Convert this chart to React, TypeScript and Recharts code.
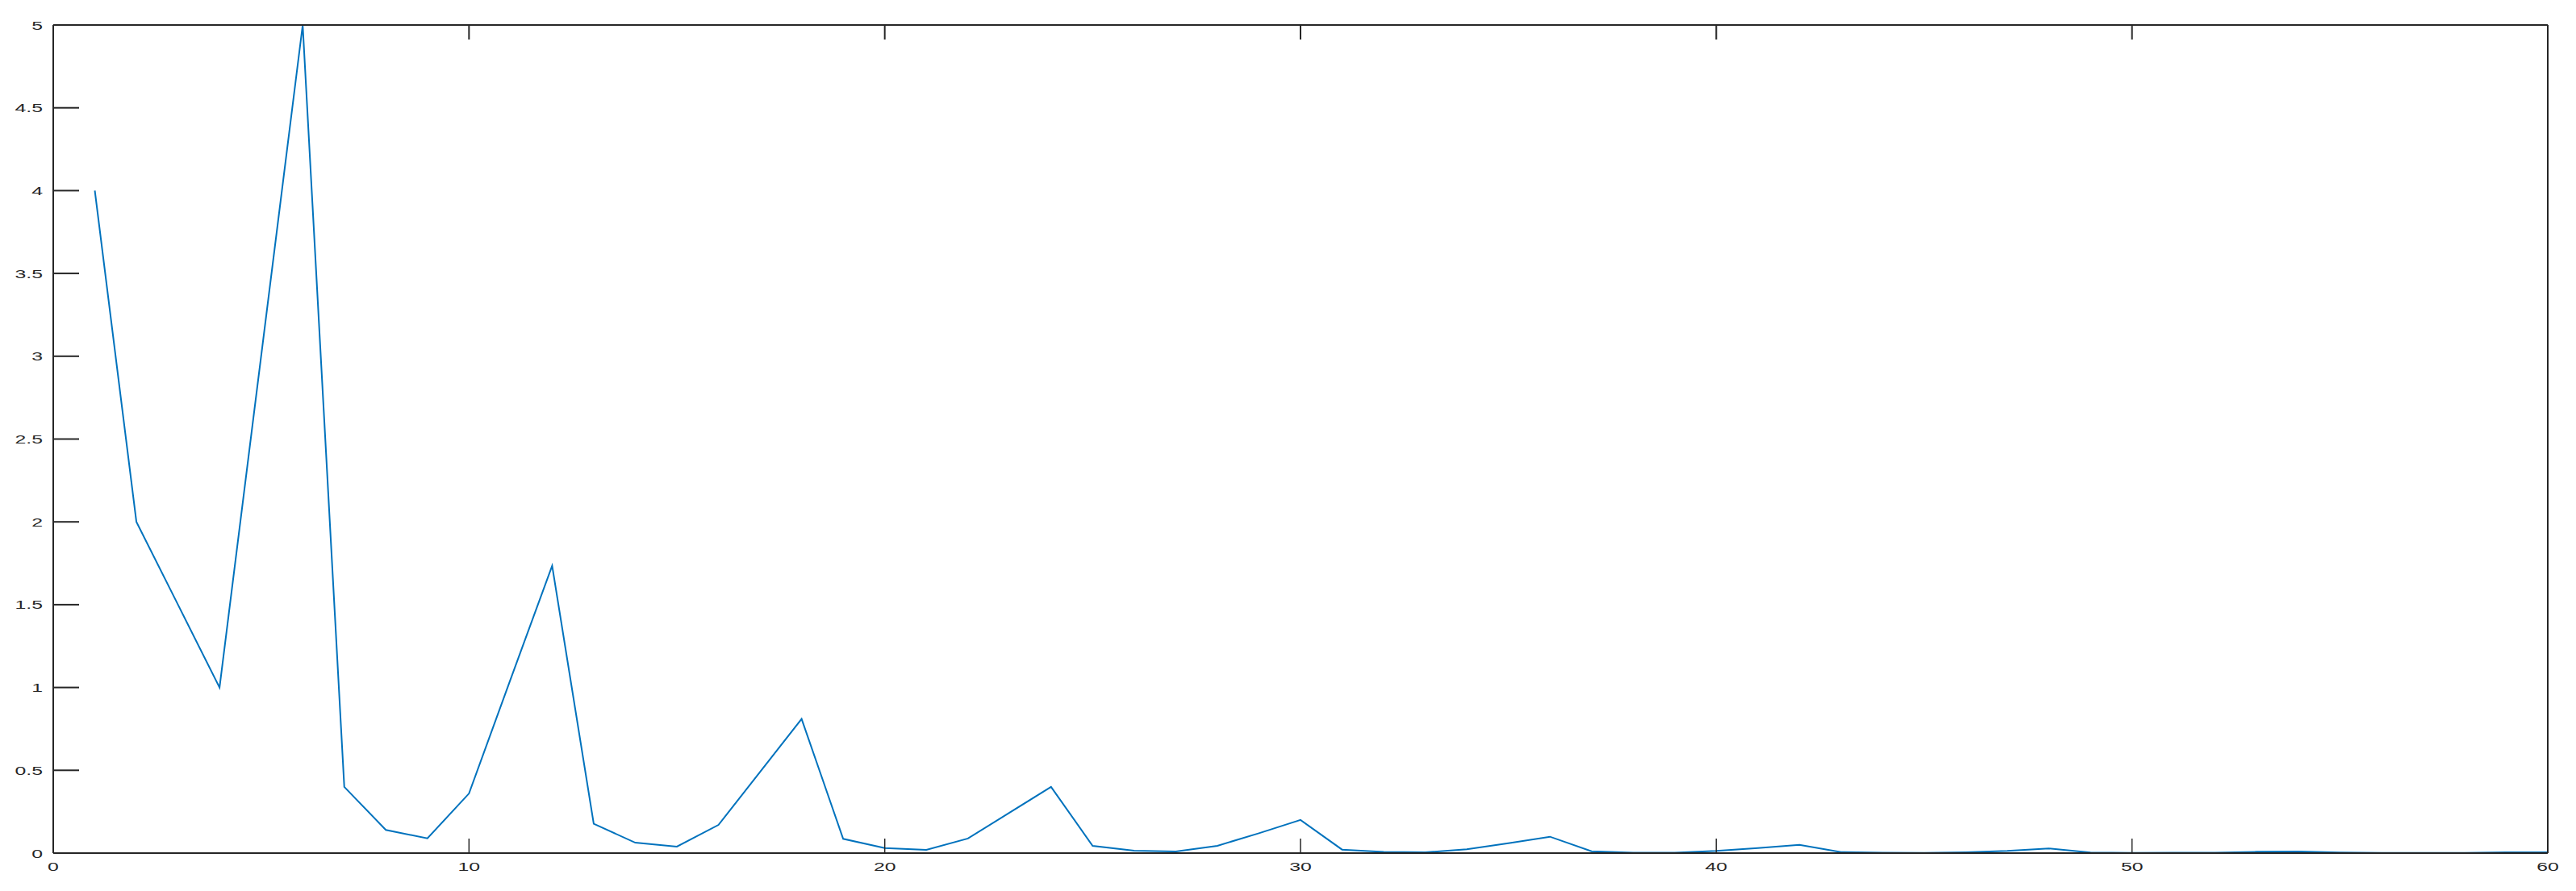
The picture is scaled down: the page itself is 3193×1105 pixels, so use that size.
import { LineChart, Line, XAxis, YAxis } from 'recharts';

// sample index 1..60
const xValues = Array.from({ length: 60 }, (_, i) => i + 1);

// magnitude
const magnitude = [
  4, 2, 1.5, 1, 3, 5, 0.4, 0.14, 0.089, 0.36,
  1.05, 1.735, 0.177, 0.063, 0.039, 0.17, 0.49, 0.81, 0.086, 0.031,
  0.02, 0.088, 0.244, 0.4, 0.044, 0.015, 0.01, 0.044, 0.12, 0.2,
  0.021, 0.007, 0.005, 0.023, 0.06, 0.099, 0.011, 0.003, 0.002, 0.013,
  0.03, 0.05, 0.006, 0.002, 0.001, 0.005, 0.013, 0.028, 0.004, 0.001,
  0.002, 0.002, 0.008, 0.01, 0.004, 0.001, 0.001, 0.001, 0.005, 0.005,
];

const xTicks = [0, 10, 20, 30, 40, 50, 60];
const yTicks = [0, 0.5, 1, 1.5, 2, 2.5, 3, 3.5, 4, 4.5, 5];

const data = xValues.map((x, i) => ({ x, y: magnitude[i] }));

const AXIS = '#262626';
const LINE = '#0072BD';
const FONT = '"Liberation Sans", Arial, sans-serif';

function LeftTick({ x, y, payload }: any) {
  return (
    <g>
      <line x1={x} x2={x + 32} y1={y} y2={y} stroke={AXIS} strokeWidth={2} />
      <g transform={`translate(${x - 13},${y + 5.5})`}>
        <text transform="scale(1.6,1)" textAnchor="end" fontSize={15.5} fontFamily={FONT} fill={AXIS}>
          {payload.value}
        </text>
      </g>
    </g>
  );
}

function RightTick({ x, y }: any) {
  return <line x1={x} x2={x - 32} y1={y} y2={y} stroke={AXIS} strokeWidth={2} />;
}

function BottomTick({ x, y, payload }: any) {
  return (
    <g>
      <line x1={x} x2={x} y1={y} y2={y - 18} stroke={AXIS} strokeWidth={1.5} />
      <g transform={`translate(${x},${y + 22})`}>
        <text transform="scale(1.6,1)" textAnchor="middle" fontSize={15.5} fontFamily={FONT} fill={AXIS}>
          {payload.value}
        </text>
      </g>
    </g>
  );
}

function TopTick({ x, y }: any) {
  return <line x1={x} x2={x} y1={y} y2={y + 18} stroke={AXIS} strokeWidth={2} />;
}

export default function App() {
  return (
    <div style={{ position: 'absolute', left: 0, top: 0, background: '#fff' }}>
      <LineChart width={3193} height={1105} data={data} margin={{ top: 0, right: 0, bottom: 0, left: 0 }}>
        <XAxis
          xAxisId="bottom"
          dataKey="x"
          type="number"
          domain={[0, 60]}
          ticks={xTicks}
          height={47}
          axisLine={{ stroke: AXIS, strokeWidth: 2 }}
          tickLine={false}
          tickSize={0}
          tickMargin={0}
          tick={<BottomTick />}
          interval={0}
        />
        <XAxis
          xAxisId="top"
          orientation="top"
          dataKey="x"
          type="number"
          domain={[0, 60]}
          ticks={xTicks}
          height={31}
          axisLine={{ stroke: AXIS, strokeWidth: 2 }}
          tickLine={false}
          tickSize={0}
          tickMargin={0}
          tick={<TopTick />}
          interval={0}
        />
        <YAxis
          yAxisId="left"
          type="number"
          domain={[0, 5]}
          ticks={yTicks}
          width={66}
          axisLine={{ stroke: AXIS, strokeWidth: 2 }}
          tickLine={false}
          tickSize={0}
          tickMargin={0}
          tick={<LeftTick />}
          interval={0}
        />
        <YAxis
          yAxisId="right"
          orientation="right"
          type="number"
          domain={[0, 5]}
          ticks={yTicks}
          width={35}
          axisLine={{ stroke: AXIS, strokeWidth: 2 }}
          tickLine={false}
          tickSize={0}
          tickMargin={0}
          tick={<RightTick />}
          interval={0}
        />
        <Line
          xAxisId="bottom"
          yAxisId="left"
          type="linear"
          dataKey="y"
          stroke={LINE}
          strokeWidth={2}
          dot={false}
          activeDot={false}
          isAnimationActive={false}
        />
      </LineChart>
    </div>
  );
}
